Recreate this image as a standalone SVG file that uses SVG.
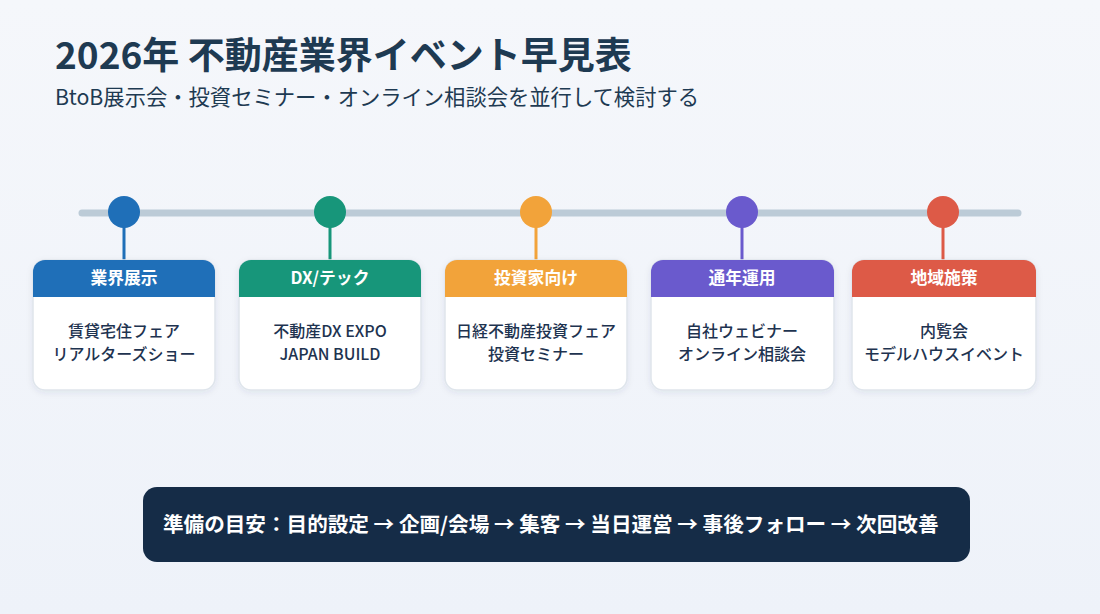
<svg xmlns="http://www.w3.org/2000/svg" width="1100" height="614" viewBox="0 0 1100 614">
<defs>
<linearGradient id="bg" x1="0" y1="0" x2="0" y2="1">
<stop offset="0" stop-color="#f5f7fb"/>
<stop offset="1" stop-color="#eef2f9"/>
</linearGradient>
<filter id="sh" x="-10%" y="-10%" width="120%" height="130%">
<feDropShadow dx="0" dy="2" stdDeviation="3" flood-color="#1e3350" flood-opacity="0.08"/>
</filter>
<style>
text{font-family:"Noto Sans CJK JP","Noto Sans",sans-serif;}
.title{font-size:37px;font-weight:700;fill:#1e3a52;}
.sub{font-size:21.3px;font-weight:400;fill:#1e3a52;}
.hd{font-size:16.8px;font-weight:700;fill:#ffffff;text-anchor:middle;}
.bd{font-size:16px;font-weight:500;fill:#1e3350;text-anchor:middle;}
.card{fill:#ffffff;stroke:#dfe5ec;stroke-width:1.5;}
.stem{stroke-width:3;}
.foot{font-size:20.6px;font-weight:700;fill:#ffffff;}
</style>
</defs>
<rect width="1100" height="614" fill="url(#bg)"/>
<text class="title" x="55" y="69">2026年 不動産業界イベント早見表</text>
<text class="sub" x="55" y="105">BtoB展示会・投資セミナー・オンライン相談会を並行して検討する</text>

<g id="connectors">
<line x1="82" y1="213" x2="1018" y2="213" stroke="#bccbd7" stroke-width="7" stroke-linecap="round"/>
<line class="stem" x1="124" y1="212" x2="124" y2="262" stroke="#1f6fb8"/>
<line class="stem" x1="330" y1="212" x2="330" y2="262" stroke="#17967a"/>
<line class="stem" x1="536" y1="212" x2="536" y2="262" stroke="#f2a33a"/>
<line class="stem" x1="742" y1="212" x2="742" y2="262" stroke="#6a5acd"/>
<line class="stem" x1="943" y1="212" x2="943" y2="262" stroke="#dd5a47"/>
</g>

<g id="node1">
<circle cx="124" cy="212" r="16" fill="#1f6fb8"/>
<rect class="card" x="33" y="260" width="182" height="130" rx="12" filter="url(#sh)"/>
<path d="M33 297V272a12 12 0 0 1 12-12H203a12 12 0 0 1 12 12V297Z" fill="#1f6fb8"/>
<text class="hd" x="124" y="284">業界展示</text>
<text class="bd" x="124" y="337">賃貸宅住フェア</text>
<text class="bd" x="124" y="360">リアルターズショー</text>
</g>
<g id="node2">
<circle cx="330" cy="212" r="16" fill="#17967a"/>
<rect class="card" x="239" y="260" width="182" height="130" rx="12" filter="url(#sh)"/>
<path d="M239 297V272a12 12 0 0 1 12-12H409a12 12 0 0 1 12 12V297Z" fill="#17967a"/>
<text class="hd" x="330" y="284">DX/テック</text>
<text class="bd" x="330" y="337">不動産DX EXPO</text>
<text class="bd" x="330" y="360">JAPAN BUILD</text>
</g>
<g id="node3">
<circle cx="536" cy="212" r="16" fill="#f2a33a"/>
<rect class="card" x="445" y="260" width="182" height="130" rx="12" filter="url(#sh)"/>
<path d="M445 297V272a12 12 0 0 1 12-12H615a12 12 0 0 1 12 12V297Z" fill="#f2a33a"/>
<text class="hd" x="536" y="284">投資家向け</text>
<text class="bd" x="536" y="337">日経不動産投資フェア</text>
<text class="bd" x="536" y="360">投資セミナー</text>
</g>
<g id="node4">
<circle cx="742" cy="212" r="16" fill="#6a5acd"/>
<rect class="card" x="651" y="260" width="183" height="130" rx="12" filter="url(#sh)"/>
<path d="M651 297V272a12 12 0 0 1 12-12H822a12 12 0 0 1 12 12V297Z" fill="#6a5acd"/>
<text class="hd" x="742" y="284">通年運用</text>
<text class="bd" x="742" y="337">自社ウェビナー</text>
<text class="bd" x="742" y="360">オンライン相談会</text>
</g>
<g id="node5">
<circle cx="943" cy="212" r="16" fill="#dd5a47"/>
<rect class="card" x="852" y="260" width="184" height="130" rx="12" filter="url(#sh)"/>
<path d="M852 297V272a12 12 0 0 1 12-12H1024a12 12 0 0 1 12 12V297Z" fill="#dd5a47"/>
<text class="hd" x="944" y="284">地域施策</text>
<text class="bd" x="944" y="337">内覧会</text>
<text class="bd" x="944" y="360">モデルハウスイベント</text>
</g>

<g id="footer">
<rect x="143" y="487" width="827" height="75" rx="14" fill="#152c47"/>
<text class="foot" x="163" y="532">準備の目安：目的設定 → 企画/会場 → 集客 → 当日運営 → 事後フォロー → 次回改善</text>
</g>
</svg>
